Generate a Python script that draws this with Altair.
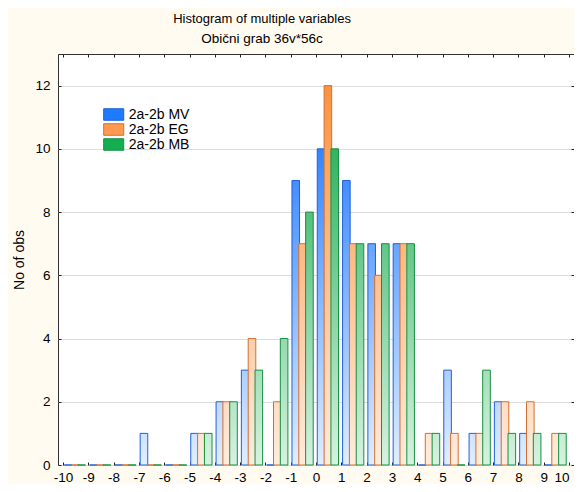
import altair as alt
import pandas as pd

# ---- data ----
bin_starts = list(range(-10, 10))
series_names = ["2a-2b MV", "2a-2b EG", "2a-2b MB"]
mv = [0, 0, 0, 1, 0, 1, 2, 3, 0, 9, 10, 9, 7, 7, 0, 3, 1, 2, 1, 0]
eg = [0, 0, 0, 0, 0, 1, 2, 4, 2, 7, 12, 7, 6, 7, 1, 1, 1, 2, 2, 1]
mb = [0, 0, 0, 0, 0, 1, 2, 3, 4, 8, 10, 7, 7, 7, 1, 0, 3, 1, 1, 1]
x_ticks = list(range(-10, 11))
y_ticks = list(range(0, 13, 2))

# ---- styles ----
FONT = "Liberation Sans"
light = [(225, 238, 255), (255, 236, 222), (215, 242, 224)]
dark = [(0, 100, 255), (248, 140, 50), (0, 160, 60)]
strokes = ["#2060D8", "#D07030", "#159040"]
legend_fill = ["#1E7BFF", "#FF9A50", "#14AE50"]
offsets = [(0.05, 0.35), (0.32, 0.62), (0.59, 0.89)]
YMAX = 13


def mix(a, b, t):
    return "#%02x%02x%02x" % tuple(round(a[i] + (b[i] - a[i]) * t) for i in range(3))


rows = []
for name, vals, (o0, o1) in zip(series_names, [mv, eg, mb], offsets):
    for b, v in zip(bin_starts, vals):
        rows.append({"series": name, "bin": b, "count": v, "x0": b + o0, "x1": b + o1})
df = pd.DataFrame(rows)

x_scale = alt.Scale(domain=[-10, 10], nice=False, zero=False)
y_scale = alt.Scale(domain=[0, YMAX], nice=False)

bottom_axis = alt.Axis(orient="bottom", values=x_ticks, labelExpr="'' + datum.value", title=None,
                       labelFontSize=13.5, labelFont=FONT, labelColor="black",
                       labelAlign={"condition": {"test": f"datum.value == {x_ticks[-1]}", "value": "right"},
                                   "value": "center"},
                       tickColor="#222222", tickSize=3, offset=-3, domain=False,
                       grid=False, labelPadding=5, labelFlush=False, labelOverlap=False)
left_axis = alt.Axis(orient="left", values=y_ticks, format="d", title="No of obs",
                     titleFontSize=14, titleFont=FONT, titleFontWeight="normal",
                     titleColor="black", titlePadding=8,
                     labelFontSize=13.5, labelFont=FONT, labelColor="black",
                     tickColor="#222222", tickSize=3, offset=-3, domain=False,
                     grid=True, gridColor="#DCDCDC", gridWidth=1, labelPadding=8)
top_axis = alt.Axis(orient="top", values=x_ticks, labels=False, title=None,
                    tickColor="#222222", tickSize=3, offset=-3, domain=False, grid=False)
right_axis = alt.Axis(orient="right", values=y_ticks, labels=False, title=None,
                      tickColor="#222222", tickSize=3, offset=-3, domain=False, grid=False)

layers = []
for i, (name, vals) in enumerate(zip(series_names, [mv, eg, mb])):
    conds = []
    for v in sorted(set(vals)):
        if v == 0:
            continue
        grad = {"gradient": "linear", "x1": 0, "y1": 0, "x2": 0, "y2": 1,
                "stops": [{"offset": 0, "color": mix(light[i], dark[i], v / YMAX)},
                          {"offset": 1, "color": mix(light[i], dark[i], 0.0)}]}
        conds.append({"test": f"datum['count'] == {v}", "value": grad})
    layer = alt.Chart(df).transform_filter(
        alt.datum.series == name
    ).mark_bar(stroke=strokes[i], strokeWidth=1, orient="vertical").encode(
        x=alt.X("x0:Q", scale=x_scale, axis=bottom_axis if i == 0 else None),
        x2="x1:Q",
        y=alt.Y("count:Q", scale=y_scale, axis=left_axis if i == 0 else None),
        y2=alt.datum(0),
        fill=alt.value(mix(light[i], dark[i], 0.0), condition=conds),
    )
    layers.append(layer)

legend = alt.Legend(title=None, orient="none", legendX=48.7, legendY=53.5,
                    symbolType="M-1.67,-0.96H1.67V0.96H-1.67Z", symbolSize=144,
                    symbolStrokeWidth=1, symbolOpacity=1,
                    labelFontSize=14, labelFont=FONT, labelColor="black",
                    labelOffset=8, rowPadding=-2.5, padding=0)

guide_layer = alt.Chart(df).transform_filter("false").mark_bar().encode(
    x=alt.X("x0:Q", scale=x_scale, axis=top_axis),
    x2="x1:Q",
    y=alt.Y("count:Q", scale=y_scale, axis=right_axis),
    y2=alt.datum(0),
    fill=alt.Fill("series:N", scale=alt.Scale(domain=series_names, range=legend_fill), legend=legend),
    stroke=alt.Stroke("series:N", scale=alt.Scale(domain=series_names, range=strokes), legend=legend),
)

chart = alt.layer(*layers, guide_layer).resolve_axis(
    x="independent", y="independent"
).properties(
    width=516,
    height=411,
    autosize=alt.AutoSizeParams(type="none"),
    padding={"left": 50, "top": 46, "right": 0, "bottom": 19},
    title=alt.TitleParams(
        "Histogram of multiple variables",
        subtitle="Obični grab 36v*56c",
        fontSize=13, subtitleFontSize=13.5, font=FONT, subtitleFont=FONT,
        fontWeight="normal", color="black", subtitleColor="black",
        anchor="middle", dx=-54, offset=8, subtitlePadding=6,
    ),
).configure(background="#FFFBF0").configure_view(
    stroke="#333333", strokeWidth=1, fill="white"
)

chart.save("out.html", embed_options={"renderer": "svg", "actions": False})
